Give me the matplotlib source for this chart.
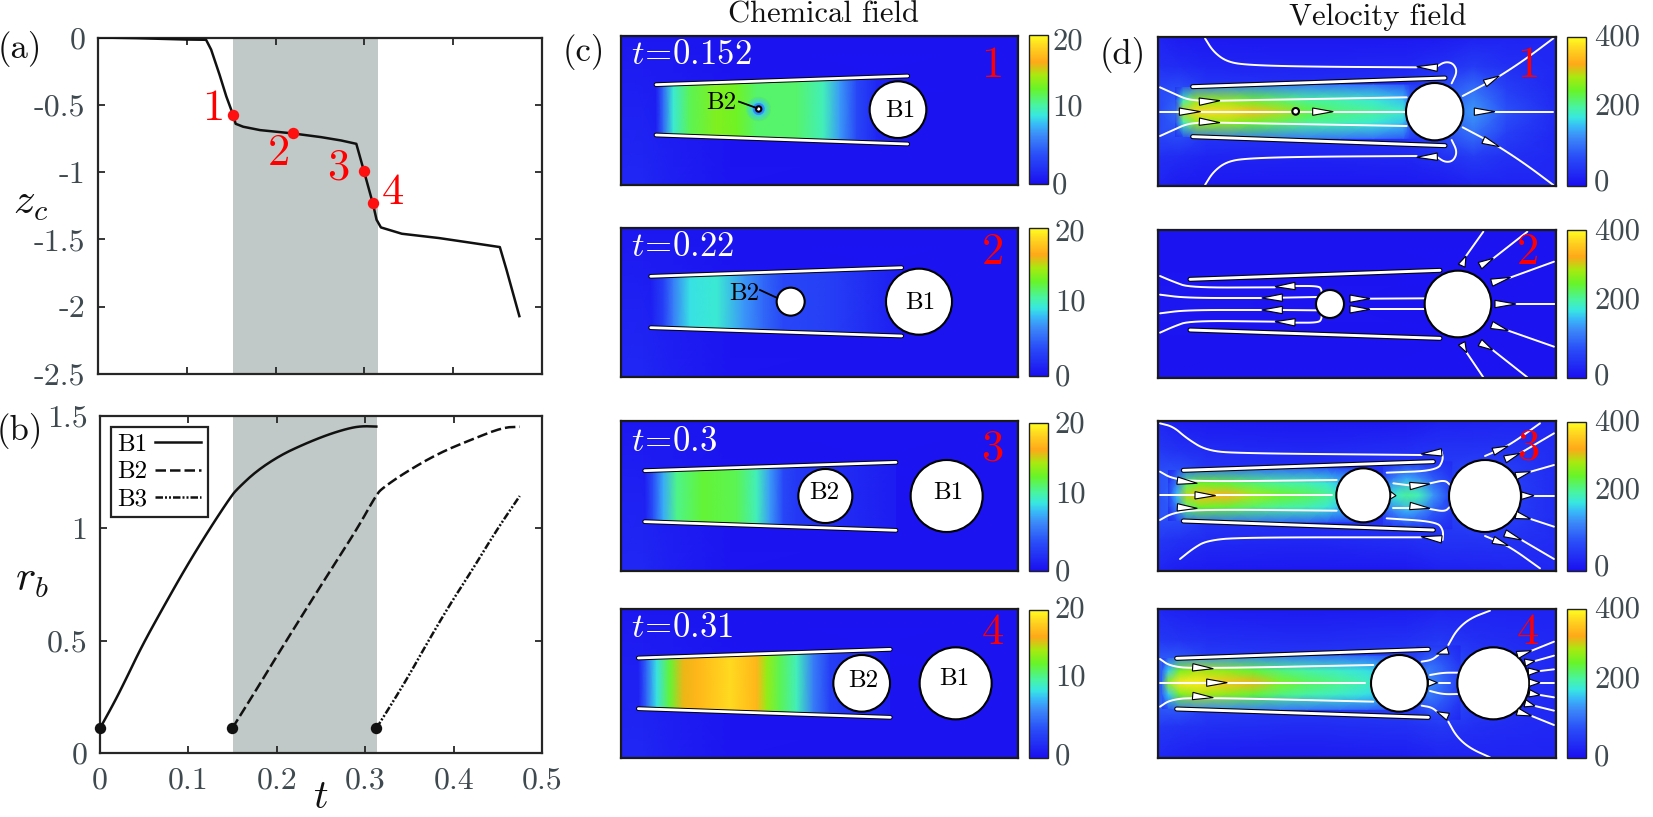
import numpy as np
import matplotlib
matplotlib.use("Agg")
import matplotlib.pyplot as plt
from matplotlib.colors import LinearSegmentedColormap, Normalize
from matplotlib.cm import ScalarMappable
from matplotlib.patches import Circle, Polygon

plt.rcParams['font.family'] = ['cmr10', 'DejaVu Serif']
plt.rcParams['mathtext.fontset'] = 'cm'
plt.rcParams['axes.formatter.use_mathtext'] = True
plt.rcParams['axes.unicode_minus'] = False

W, H = 1653, 817
GRAY = '#3f4a50'
DARK = '#262626'
SHADE = '#c0c9c7'

# ---------------- panel (a) / (b) data ----------------
t_z = [0, .0437, .0989, .1217, .1274, .1369, .1445, .1521, .155, .1635, .1825, .2198, .251, .2738, .2909,
       .2996, .3095, .3137, .3186, .3422, .384, .422, .4525, .46, .4745]
z_c = [0, -.005, -.015, -.017, -.09, -.277, -.438, -.574, -.641, -.663, -.688, -.713, -.74, -.765, -.79,
       -.995, -1.233, -1.354, -1.411, -1.458, -1.49, -1.527, -1.557, -1.725, -2.07]
mark_t = [.1521, .2198, .2996, .3095]
mark_z = [-.574, -.713, -.995, -1.233]
mark_names = ['1', '2', '3', '4']
mark_label_t = [.130, .2038, .2711, .3323]
mark_label_z = [-.53, -.866, -.97, -1.156]
shade_a = [.1524, .315]
shade_b = [.15, .3135]

t_b1 = [0, .0168, .030, .0473, .0702, .097, .1237, .1485, .156, .177, .204, .2305, .257, .28, .2954, .3126]
r_b1 = [.11, .23, .334, .475, .639, .825, .996, 1.144, 1.178, 1.255, 1.325, 1.374, 1.416, 1.444, 1.455, 1.453]
t_b2 = [.1496, .175, .2, .2305, .2687, .2916, .313, .32, .345, .383, .4214, .4557, .4748]
r_b2 = [.11, .27, .431, .624, .862, 1.003, 1.152, 1.18, 1.248, 1.334, 1.397, 1.449, 1.452]
t_b3 = [.3126, .3317, .349, .368, .3947, .4214, .448, .4748]
r_b3 = [.11, .23, .342, .475, .654, .817, .988, 1.144]
start_t = [0, .1496, .3126]
start_r = [.11, .11, .11]

x_ticks = [0, .1, .2, .3, .4, .5]
x_labels = ['0', '0.1', '0.2', '0.3', '0.4', '0.5']
za_ticks = [0, -.5, -1, -1.5, -2, -2.5]
za_labels = ['0', '-0.5', '-1', '-1.5', '-2', '-2.5']
rb_ticks = [0, .5, 1, 1.5]
rb_labels = ['0', '0.5', '1', '1.5']

# ---------------- colormap ----------------
cmap_f = [0, .2, .33, .4, .46, .53, .64, .73, .82, .93, 1]
cmap_c = ['#1a0ff0', '#2a50f8', '#3c8cf8', '#38baf8', '#38e8e0', '#48f4a0', '#68f428',
          '#a8ea10', '#ffa818', '#ffd820', '#ffff20']
CMAP = LinearSegmentedColormap.from_list('field', list(zip(cmap_f, cmap_c)))

# ---------------- chemical field data (concentration along the tube) ----------------
c1_x = [378, 400, 430, 480, 560, 620, 680, 800, 880, 930, 980, 1040, 1135]
c1_v = [1, 5, 9.5, 12, 13.5, 13, 11.5, 11.5, 10, 7, 3.5, 1.5, .6]
c2_x = [362, 400, 430, 480, 560, 640, 700, 760, 900, 1115]
c2_v = [1, 3, 6, 9, 9.5, 7, 5, 3.5, 3, .8]
c3_x = [344, 370, 400, 440, 520, 620, 680, 720, 760, 800, 1100]
c3_v = [1, 4, 7.5, 11, 12.5, 12, 10, 7, 3.5, 2.5, .8]
c4_x = [325, 350, 380, 420, 460, 500, 600, 680, 710, 750, 800, 850, 900, 1080]
c4_v = [1, 5, 9, 12.5, 16, 17, 18.6, 17, 14, 12, 10, 6, 3, .8]
bg_x = [272, 340, 430, 600, 1465]
bg_yf = [0, .5, 1]
bg_v = [[.5, .5, .5, .3, .3], [1.2, 1.1, .8, .4, .3], [1.5, 1.5, 1.0, .4, .3]]
spot_r = [0, 10, 20, 36]
spot_v = [1, 4, 8.5, 12]

# ---------------- velocity field data ----------------
d1_ix = [405, 430, 470, 560, 640, 720, 800, 900, 1000, 1090, 1110, 1215]
d1_iy = [-80, -33, 0, 33, 80]
d1_i = [[30, 60, 110, 120, 120, 120, 120, 115, 110, 90, 60, 30],
        [60, 200, 280, 280, 255, 235, 215, 205, 190, 165, 100, 40],
        [90, 300, 370, 370, 345, 300, 250, 225, 215, 195, 120, 40],
        [60, 200, 280, 280, 255, 235, 215, 205, 190, 165, 100, 40],
        [30, 60, 110, 120, 120, 120, 120, 115, 110, 90, 60, 30]]
d3_ix = [385, 410, 440, 480, 560, 640, 720, 800, 860, 890, 970]
d3_iy = [-80, -35, 0, 35, 80]
d3_i = [[30, 60, 100, 110, 110, 110, 105, 100, 90, 80, 70],
        [50, 120, 230, 260, 250, 230, 215, 205, 190, 170, 150],
        [60, 160, 300, 345, 335, 290, 260, 240, 220, 200, 180],
        [50, 120, 230, 260, 250, 230, 215, 205, 190, 170, 150],
        [30, 60, 100, 110, 110, 110, 105, 100, 90, 80, 70]]
d4_ix = [365, 385, 420, 470, 560, 640, 720, 800, 900, 980, 1078]
d4_iy = [-80, -35, 0, 35, 80]
d4_i = [[40, 80, 120, 130, 130, 125, 120, 115, 110, 100, 80],
        [90, 170, 265, 295, 275, 250, 225, 210, 195, 180, 150],
        [110, 280, 380, 385, 350, 320, 270, 240, 220, 200, 170],
        [90, 170, 265, 295, 275, 250, 225, 210, 195, 180, 150],
        [40, 80, 120, 130, 130, 125, 120, 115, 110, 100, 80]]
d3_gx = [1030, 1060, 1100, 1140, 1180, 1235]
d3_gy = [-100, -50, 0, 50, 100]
d3_g = [[40, 45, 50, 50, 45, 35],
        [80, 120, 150, 130, 90, 50],
        [150, 190, 215, 200, 140, 60],
        [80, 120, 150, 130, 90, 50],
        [40, 45, 50, 50, 45, 35]]
d4_gx = [1130, 1170, 1210, 1260]
d4_gy = [-110, -50, 0, 50, 110]
d4_g = [[35, 50, 50, 30],
        [90, 110, 90, 50],
        [150, 130, 100, 60],
        [90, 110, 90, 50],
        [35, 50, 50, 30]]

d1_ox = [355, 420, 500, 800, 1100, 1200, 1300, 1400, 1548]
d1_oy = [110, 200, 270, 335, 400, 470, 558]
d1_o = [[25, 15, 12, 10, 12, 15, 22, 25, 30],
        [40, 35, 28, 25, 30, 40, 55, 40, 30],
        [70, 80, 50, 40, 45, 70, 110, 60, 30],
        [70, 110, 60, 40, 50, 90, 140, 80, 35],
        [70, 80, 50, 40, 45, 70, 110, 60, 30],
        [40, 35, 28, 25, 30, 40, 55, 40, 30],
        [25, 15, 12, 10, 12, 15, 22, 25, 30]]
d2_ox = [355, 900, 1548]
d2_oy = [90, 312, 535]
d2_o = [[6, 6, 6], [10, 8, 6], [6, 6, 6]]
d3_ox = [355, 420, 500, 800, 1100, 1200, 1300, 1400, 1548]
d3_oy = [124, 210, 280, 346, 410, 480, 572]
d3_o = [[28, 18, 15, 12, 14, 22, 24, 28, 30],
        [50, 42, 35, 30, 38, 45, 45, 45, 35],
        [80, 80, 50, 40, 45, 50, 70, 60, 35],
        [80, 110, 60, 40, 50, 50, 80, 65, 35],
        [80, 80, 50, 40, 45, 50, 70, 60, 35],
        [50, 42, 35, 30, 38, 45, 45, 45, 35],
        [28, 18, 15, 12, 14, 22, 24, 28, 30]]
d4_ox = [355, 420, 500, 800, 1100, 1200, 1300, 1400, 1548]
d4_oy = [147, 240, 300, 370, 440, 500, 593]
d4_o = [[30, 22, 18, 15, 18, 25, 25, 25, 25],
        [50, 45, 40, 35, 42, 50, 40, 35, 30],
        [90, 90, 60, 50, 60, 80, 55, 45, 30],
        [90, 120, 70, 50, 70, 110, 60, 45, 30],
        [90, 90, 60, 50, 60, 80, 55, 45, 30],
        [50, 45, 40, 35, 42, 50, 40, 35, 30],
        [30, 22, 18, 15, 18, 25, 25, 25, 25]]

# ---------------- geometry of the panels ----------------
c1_walls = [[(378, 254), (1133, 228)], [(378, 405), (1133, 432)]]
c2_walls = [[(362, 829), (1115, 803)], [(362, 983), (1115, 1008)]]
c3_walls = [[(344, 272), (1098, 247)], [(344, 425), (1098, 451)]]
c4_walls = [[(325, 834), (1081, 808)], [(325, 986), (1081, 1012)]]
d1_walls = [[(458, 260), (1215, 234)], [(458, 410), (1215, 437)]]
d2_walls = [[(450, 238), (1200, 211)], [(450, 390), (1200, 415)]]
d3_walls = [[(430, 271), (1180, 245)], [(430, 423), (1180, 450)]]
d4_walls = [[(410, 295), (1165, 268)], [(410, 447), (1165, 472)]]

c1_bub = [(1104, 329, 85), (686, 327, 8)]
c2_bub = [(1167, 905, 99), (782, 905, 42)]
c3_bub = [(1250, 348, 108), (886, 348, 81)]
c4_bub = [(1277, 910, 108), (995, 910, 85)]
d1_bub = [(1184, 335, 86), (767, 334, 10)]
d2_bub = [(1254, 312, 100), (870, 312, 42)]
d3_bub = [(1335, 348, 108), (970, 346, 81)]
d4_bub = [(1360, 370, 108), (1078, 370, 85)]

# streamlines
d1_lines = [
    [(495, 115), (520, 155), (560, 185), (620, 195), (800, 200), (1130, 202)],
    [(1190, 200), (1215, 185), (1240, 190), (1252, 215), (1235, 250)],
    [(495, 555), (520, 515), (560, 485), (620, 475), (800, 470), (1130, 468)],
    [(1190, 470), (1215, 487), (1240, 483), (1252, 455), (1235, 420)],
    [(360, 262), (400, 280), (440, 298), (480, 302)], [(540, 302), (1100, 292)],
    [(360, 408), (400, 390), (440, 372), (480, 368)], [(540, 368), (1100, 378)],
    [(360, 335), (420, 335)], [(480, 335), (760, 335)], [(775, 335), (820, 335)], [(880, 335), (1095, 335)],
    [(1268, 288), (1340, 250), (1380, 228), (1460, 175), (1540, 115)],
    [(1365, 335), (1540, 335)],
    [(1268, 382), (1340, 420), (1380, 442), (1460, 495), (1540, 555)],
]
d1_arrows = [(478, 305, 540, 302), (418, 335, 482, 335), (478, 365, 540, 368), (818, 335, 880, 335),
             (1192, 203, 1130, 200), (1192, 470, 1130, 472),
             (1335, 250, 1378, 228), (1303, 335, 1365, 335), (1330, 420, 1378, 440)]
d2_lines = [
    [(360, 228), (400, 245), (450, 263), (705, 262)],
    [(765, 258), (835, 258), (845, 268), (845, 290)],
    [(360, 284), (440, 294), (665, 294)], [(727, 293), (830, 291)],
    [(360, 340), (440, 330), (665, 330)], [(727, 330), (830, 331)],
    [(360, 398), (400, 380), (450, 362), (705, 365)],
    [(765, 368), (835, 368), (845, 357), (845, 335)],
    [(990, 296), (1155, 295)], [(990, 328), (1155, 328)],
    [(1278, 168), (1330, 95)], [(1360, 175), (1462, 95)], [(1410, 233), (1542, 185)],
    [(1428, 312), (1545, 312)], [(1405, 392), (1542, 440)], [(1358, 450), (1462, 532)],
    [(1280, 458), (1330, 532)],
]
d2_arrows = [(765, 258, 705, 260), (727, 293, 665, 294), (727, 330, 665, 330), (765, 367, 705, 365),
             (930, 296, 990, 296), (930, 328, 990, 328),
             (1265, 197, 1278, 168), (1320, 197, 1360, 175), (1355, 248, 1412, 232), (1365, 312, 1428, 312),
             (1355, 375, 1405, 392), (1320, 428, 1358, 450), (1265, 430, 1280, 458)]
d3_lines = [
    [(360, 130), (400, 140), (440, 175), (500, 212), (600, 220), (1145, 225)],
    [(1205, 215), (1210, 240), (1190, 272), (1040, 278)],
    [(420, 537), (460, 505), (500, 482), (600, 472), (1145, 472)],
    [(1208, 480), (1210, 450), (1190, 425), (1040, 415)],
    [(360, 275), (395, 295), (470, 305), (890, 300)],
    [(360, 420), (395, 400), (470, 388), (890, 392)],
    [(360, 346), (465, 346)], [(527, 346), (875, 346)],
    [(1060, 310), (1108, 316)], [(1170, 310), (1215, 300), (1230, 315)],
    [(1060, 385), (1110, 385)], [(1170, 387), (1215, 395), (1230, 380)],
    [(1335, 228), (1405, 198), (1500, 130)], [(1440, 220), (1542, 160)], [(1472, 275), (1542, 255)],
    [(1482, 347), (1542, 347)], [(1472, 417), (1542, 440)], [(1445, 480), (1542, 537)],
    [(1335, 468), (1405, 497), (1500, 565)],
]
d3_arrows = [(412, 302, 472, 310), (412, 382, 472, 385), (465, 346, 527, 347),
             (1205, 217, 1143, 222), (1205, 478, 1143, 470),
             (1110, 318, 1170, 312), (1110, 378, 1170, 385), (1052, 346, 1068, 347),
             (1360, 215, 1405, 198), (1395, 238, 1440, 220), (1428, 288, 1472, 275), (1445, 347, 1482, 347),
             (1428, 405, 1472, 417), (1395, 460, 1445, 480), (1360, 480, 1405, 497)]
d4_lines = [
    [(360, 297), (390, 318), (460, 326), (1000, 315)],
    [(360, 440), (390, 420), (460, 412), (1000, 425)],
    [(360, 368), (500, 368)], [(562, 368), (975, 368)],
    [(1145, 305), (1175, 300), (1195, 285)], [(1225, 255), (1250, 210), (1290, 175), (1350, 152)],
    [(1145, 437), (1175, 442), (1195, 458)], [(1225, 485), (1250, 530), (1290, 565), (1350, 592)],
    [(1170, 345), (1210, 338), (1255, 338)], [(1197, 368), (1230, 368)], [(1170, 393), (1210, 403), (1255, 402)],
    [(1475, 272), (1542, 245)], [(1485, 303), (1542, 287)], [(1500, 333), (1542, 328)], [(1500, 368), (1542, 368)],
    [(1500, 405), (1542, 412)], [(1485, 438), (1542, 452)], [(1475, 468), (1542, 495)],
]
d4_arrows = [(458, 322, 520, 326), (458, 408, 520, 413), (500, 368, 562, 368),
             (1224, 272, 1190, 282), (1224, 470, 1190, 455), (1165, 368, 1192, 368),
             (1432, 285, 1475, 272), (1455, 308, 1485, 303), (1465, 335, 1500, 333), (1468, 368, 1500, 368),
             (1468, 400, 1500, 405), (1455, 430, 1485, 438), (1432, 455, 1475, 468)]

# ---------------- helpers ----------------
fig = plt.figure(figsize=(W / 100, H / 100), dpi=100, facecolor='white')


def add_ax(x0, y0, x1, y1, **kw):
    return fig.add_axes([x0 / W, 1 - y1 / H, (x1 - x0) / W, (y1 - y0) / H], **kw)


def ftext(x, y, s, **kw):
    kw.setdefault('ha', 'center')
    kw.setdefault('va', 'center')
    return fig.text(x / W, 1 - y / H, s, **kw)


def smooth(pts, n=3):
    p = np.asarray(pts, float)
    if len(p) < 3:
        return p
    for _ in range(n):
        q = [p[0]]
        for a, b in zip(p[:-1], p[1:]):
            q += [a * .75 + b * .25, a * .25 + b * .75]
        q.append(p[-1])
        p = np.array(q)
    return p


def make_panel(bx, by, x0, x1, y0, y1):
    ax = add_ax(bx + x0 / 3, by + y0 / 3, bx + x1 / 3, by + y1 / 3)
    ax.set_xlim(x0, x1)
    ax.set_ylim(y1, y0)
    ax.set_xticks([])
    ax.set_yticks([])
    for s in ax.spines.values():
        s.set_linewidth(1.6)
        s.set_color('#1a1a1a')
        s.set_zorder(20)
    return ax


def tube_clip(ax, walls, left):
    (a, b), (c, d) = walls
    return Polygon([(left, a[1]), a, b, d, c, (left, c[1])], closed=True, transform=ax.transData,
                   fill=False, edgecolor='none')


def mesh(ax, xs, ys, vals, norm, clip=None, z=1):
    X, Y = np.meshgrid(xs, ys)
    m = ax.pcolormesh(X, Y, np.asarray(vals, float), shading='gouraud', cmap=CMAP, norm=norm, zorder=z)
    if clip is not None:
        ax.add_patch(clip)
        m.set_clip_path(clip)
    return m


def draw_walls(ax, walls, black=3.6, white=2.1):
    for (a, b) in walls:
        ax.plot([a[0], b[0]], [a[1], b[1]], color='black', lw=black, solid_capstyle='round', zorder=5)
        ax.plot([a[0], b[0]], [a[1], b[1]], color='white', lw=white, solid_capstyle='round', zorder=6)


def draw_bubbles(ax, bubs):
    for (x, y, r) in bubs:
        ax.add_patch(Circle((x, y), r, facecolor='white', edgecolor='black', lw=1.5, zorder=7))


def wedge(ax, x0, y0, x1, y1, hw=11):
    d = np.array([x1 - x0, y1 - y0], float)
    L = np.hypot(*d)
    n = np.array([-d[1], d[0]]) / L
    b = np.array([x0, y0])
    ax.add_patch(Polygon([b + n * hw, b - n * hw, (x1, y1)], closed=True, facecolor='white', edgecolor='black',
                         lw=.8, joinstyle='miter', zorder=8))


# ---------------- panel (a) ----------------
ax_a = add_ax(98, 37.5, 542, 374)
ax_a.axvspan(*shade_a, color=SHADE, lw=0, zorder=0)
ax_a.plot(t_z, z_c, color='#111111', lw=1.8, zorder=3)
ax_a.plot(mark_t, mark_z, 'o', color='#ff1010', ms=8.2, mew=0, zorder=4)
for n, tx, zy in zip(mark_names, mark_label_t, mark_label_z):
    ax_a.text(tx, zy, n, color='#ff0000', fontsize=32, ha='center', va='center', zorder=5)
ax_a.set_xlim(0, .5)
ax_a.set_ylim(-2.5, 0)
ax_a.set_xticks(x_ticks)
ax_a.set_xticklabels([])
ax_a.set_yticks(za_ticks)
ax_a.set_yticklabels(za_labels)

# ---------------- panel (b) ----------------
ax_b = add_ax(100, 416, 542, 753)
ax_b.axvspan(*shade_b, color=SHADE, lw=0, zorder=0)
s1, s2, s3 = smooth(list(zip(t_b1, r_b1)), 2), smooth(list(zip(t_b2, r_b2)), 2), smooth(list(zip(t_b3, r_b3)), 2)
l1, = ax_b.plot(s1[:, 0], s1[:, 1], color='#111111', lw=1.8, zorder=3, label='B1')
l2, = ax_b.plot(s2[:, 0], s2[:, 1], color='#111111', lw=1.8, ls=(0, (4.2, 1.6)), zorder=3, label='B2')
l3, = ax_b.plot(s3[:, 0], s3[:, 1], color='#111111', lw=1.8, ls=(0, (3, .8, .8, .8, .8, .8)), zorder=3, label='B3')
ax_b.plot(start_t, start_r, 'o', color='#111111', ms=8.2, mew=0, zorder=4, clip_on=False)
ax_b.set_xlim(0, .5)
ax_b.set_ylim(0, 1.5)
ax_b.set_xticks(x_ticks)
ax_b.set_xticklabels(x_labels)
ax_b.set_yticks(rb_ticks)
ax_b.set_yticklabels(rb_labels)
leg = ax_b.legend(handles=[l1, l2, l3], loc='upper left', markerfirst=False, frameon=True, fancybox=False,
                  framealpha=1, edgecolor='#222222', prop={'family': 'cmr10', 'size': 18},
                  bbox_to_anchor=((111 - 100) / 442, 1 - (427 - 416) / 337), borderaxespad=0,
                  borderpad=.25, labelspacing=.2, handlelength=1.85, handletextpad=.3, labelcolor='black')
leg.get_frame().set_linewidth(1.6)
leg.set_zorder(10)

for ax in (ax_a, ax_b):
    ax.tick_params(which='both', direction='in', top=True, right=True, length=5, width=1.3, color=DARK,
                   labelsize=23, labelcolor=GRAY, pad=9)
    for s in ax.spines.values():
        s.set_linewidth(1.6)
        s.set_color(DARK)
ax_b.tick_params(axis='x', pad=10)

# ---------------- chemical panels ----------------
c_norm = Normalize(0, 20)
v_norm = Normalize(0, 400)
chem = [
    (530, 0, 108, 555, c1_walls, c1_bub, c1_x, c1_v, r'$t\!=\!0.152$', '1', 165, 198),
    (530, 0, 685, 1130, c2_walls, c2_bub, c2_x, c2_v, r'$t\!=\!0.22$', '2', 742, 760),
    (530, 380, 124, 572, c3_walls, c3_bub, c3_x, c3_v, r'$t\!=\!0.3$', '3', 187, 207),
    (530, 380, 688, 1135, c4_walls, c4_bub, c4_x, c4_v, r'$t\!=\!0.31$', '4', 745, 760),
]
chem_axes = []
for bx, by, y0, y1, walls, bubs, xs, vs, tlab, num, ty, ny in chem:
    ax = make_panel(bx, by, 272, 1465, y0, y1)
    chem_axes.append(ax)
    ys = [y0 + f * (y1 - y0) for f in bg_yf]
    mesh(ax, bg_x, ys, bg_v, c_norm, z=1)
    (a, b), (c, d) = walls
    mesh(ax, xs, [min(a[1], b[1]), max(c[1], d[1])], [vs, vs], c_norm, clip=tube_clip(ax, walls, a[0]), z=2)
    draw_walls(ax, walls, black=3.4, white=2.0)
    ax.text(302, ty, tlab, color='white', fontsize=25, ha='left', va='center', zorder=10)
    ax.text(1388, ny, num, color='#ff0000', fontsize=32, ha='center', va='center', zorder=10)

# small depleted spot round the newly born bubble in the first frame
sx, sy, _ = c1_bub[1]
ang = np.linspace(0, 2 * np.pi, 49)
SX = sx + np.outer(spot_r, np.cos(ang))
SY = sy + np.outer(spot_r, np.sin(ang))
chem_axes[0].pcolormesh(SX, SY, np.tile(np.array(spot_v)[:, None], (1, 49)), shading='gouraud', cmap=CMAP,
                        norm=c_norm, zorder=3)

for ax, (_, _, _, _, _, bubs, *_) in zip(chem_axes, chem):
    draw_bubbles(ax, bubs)

chem_axes[0].text(1112, 332, 'B1', fontsize=18, ha='center', va='center', zorder=9)
chem_axes[0].text(575, 308, 'B2', fontsize=18, ha='center', va='center', zorder=9)
chem_axes[0].plot([627, 680], [305, 324], color='black', lw=1.3, zorder=9)
chem_axes[1].text(1170, 908, 'B1', fontsize=18, ha='center', va='center', zorder=9)
chem_axes[1].text(642, 882, 'B2', fontsize=18, ha='center', va='center', zorder=9)
chem_axes[1].plot([690, 742], [870, 894], color='black', lw=1.3, zorder=9)
chem_axes[2].text(1256, 340, 'B1', fontsize=18, ha='center', va='center', zorder=9)
chem_axes[2].text(884, 340, 'B2', fontsize=18, ha='center', va='center', zorder=9)
chem_axes[3].text(1272, 897, 'B1', fontsize=18, ha='center', va='center', zorder=9)
chem_axes[3].text(1000, 903, 'B2', fontsize=18, ha='center', va='center', zorder=9)

# ---------------- velocity panels ----------------
vel = [
    (0, 110, 558, d1_walls, d1_bub, d1_ox, d1_oy, d1_o, d1_lines, d1_arrows, '1'),
    (200, 90, 535, d2_walls, d2_bub, d2_ox, d2_oy, d2_o, d2_lines, d2_arrows, '2'),
    (380, 124, 572, d3_walls, d3_bub, d3_ox, d3_oy, d3_o, d3_lines, d3_arrows, '3'),
    (560, 147, 593, d4_walls, d4_bub, d4_ox, d4_oy, d4_o, d4_lines, d4_arrows, '4'),
]
vel_num_y = [198, 160, 205, 220]
inner = {0: (d1_ix, d1_iy, d1_i, 335), 2: (d3_ix, d3_iy, d3_i, 346), 3: (d4_ix, d4_iy, d4_i, 368)}
gap = {2: (d3_gx, d3_gy, d3_g, 346), 3: (d4_gx, d4_gy, d4_g, 368)}
for i, (by, y0, y1, walls, bubs, ox, oy, oc, lines, arrows, num) in enumerate(vel):
    ax = make_panel(1040, by, 355, 1548, y0, y1)
    mesh(ax, ox, oy, oc, v_norm, z=1)
    if i in gap:
        gx, gy, gc, yc = gap[i]
        mesh(ax, gx, [yc + v for v in gy], gc, v_norm, z=1.5)
    if i in inner:
        ix, iy, ic, yc = inner[i]
        mesh(ax, ix, [yc + v for v in iy], ic, v_norm, clip=tube_clip(ax, walls, ix[0]), z=2)
    for ln in lines:
        p = smooth(ln)
        ax.plot(p[:, 0], p[:, 1], color='white', lw=1.4, solid_capstyle='round', zorder=4)
    draw_walls(ax, walls)
    draw_bubbles(ax, bubs)
    for a in arrows:
        wedge(ax, *a)
    ax.text(1465, vel_num_y[i], num, color='#ff0000', fontsize=32, ha='center', va='center', zorder=10)

# ---------------- colour bars ----------------
cb_chem = [(35, 184), (228, 376), (423, 571), (610, 758)]
cb_vel = [(37, 186), (230, 378), (422, 571), (609, 758)]
chem_tick_y = [(42, 108, 186), (233, 303, 378), (425, 495, 573), (610, 678, 757)]
vel_tick_y = [(38, 107, 183), (232, 301, 377), (423, 491, 568), (610, 680, 758)]
chem_tick_x = [1052, 1055, 1055, 1055]
chem_labels = ['20', '10', '0']
vel_labels = ['400', '200', '0']
for (t, b), ys, xl in zip(cb_chem, chem_tick_y, chem_tick_x):
    cax = add_ax(1029, t, 1047.5, b)
    cbar = fig.colorbar(ScalarMappable(c_norm, CMAP), cax=cax, ticks=[])
    cbar.outline.set_linewidth(1.0)
    cbar.outline.set_edgecolor('#222222')
    for y, s in zip(ys, chem_labels):
        ftext(xl, y, s, ha='left', color=GRAY, fontsize=22)
for (t, b), ys in zip(cb_vel, vel_tick_y):
    cax = add_ax(1566.5, t, 1585.5, b)
    cbar = fig.colorbar(ScalarMappable(v_norm, CMAP), cax=cax, ticks=[])
    cbar.outline.set_linewidth(1.0)
    cbar.outline.set_edgecolor('#222222')
    for y, s in zip(ys, vel_labels):
        ftext(1594, y, s, ha='left', color=GRAY, fontsize=22)

# ---------------- figure-level labels ----------------
ftext(20, 49, '(a)', fontsize=25, color='#111111')
ftext(20, 431, '(b)', fontsize=25, color='#111111')
ftext(584, 52, '(c)', fontsize=25, color='#111111')
ftext(1123, 55, '(d)', fontsize=25, color='#111111')
ftext(823, 15, 'Chemical field', fontsize=22, color='#111111')
ftext(1378, 17, 'Velocity field', fontsize=22, color='#111111')
ftext(31, 204, r'$z_c$', fontsize=31, color='#111111')
ftext(32, 581, r'$r_b$', fontsize=31, color='#111111')
ftext(321, 798, r'$t$', fontsize=29, color='#111111')

fig.savefig('out.png', dpi=100, facecolor='white')
